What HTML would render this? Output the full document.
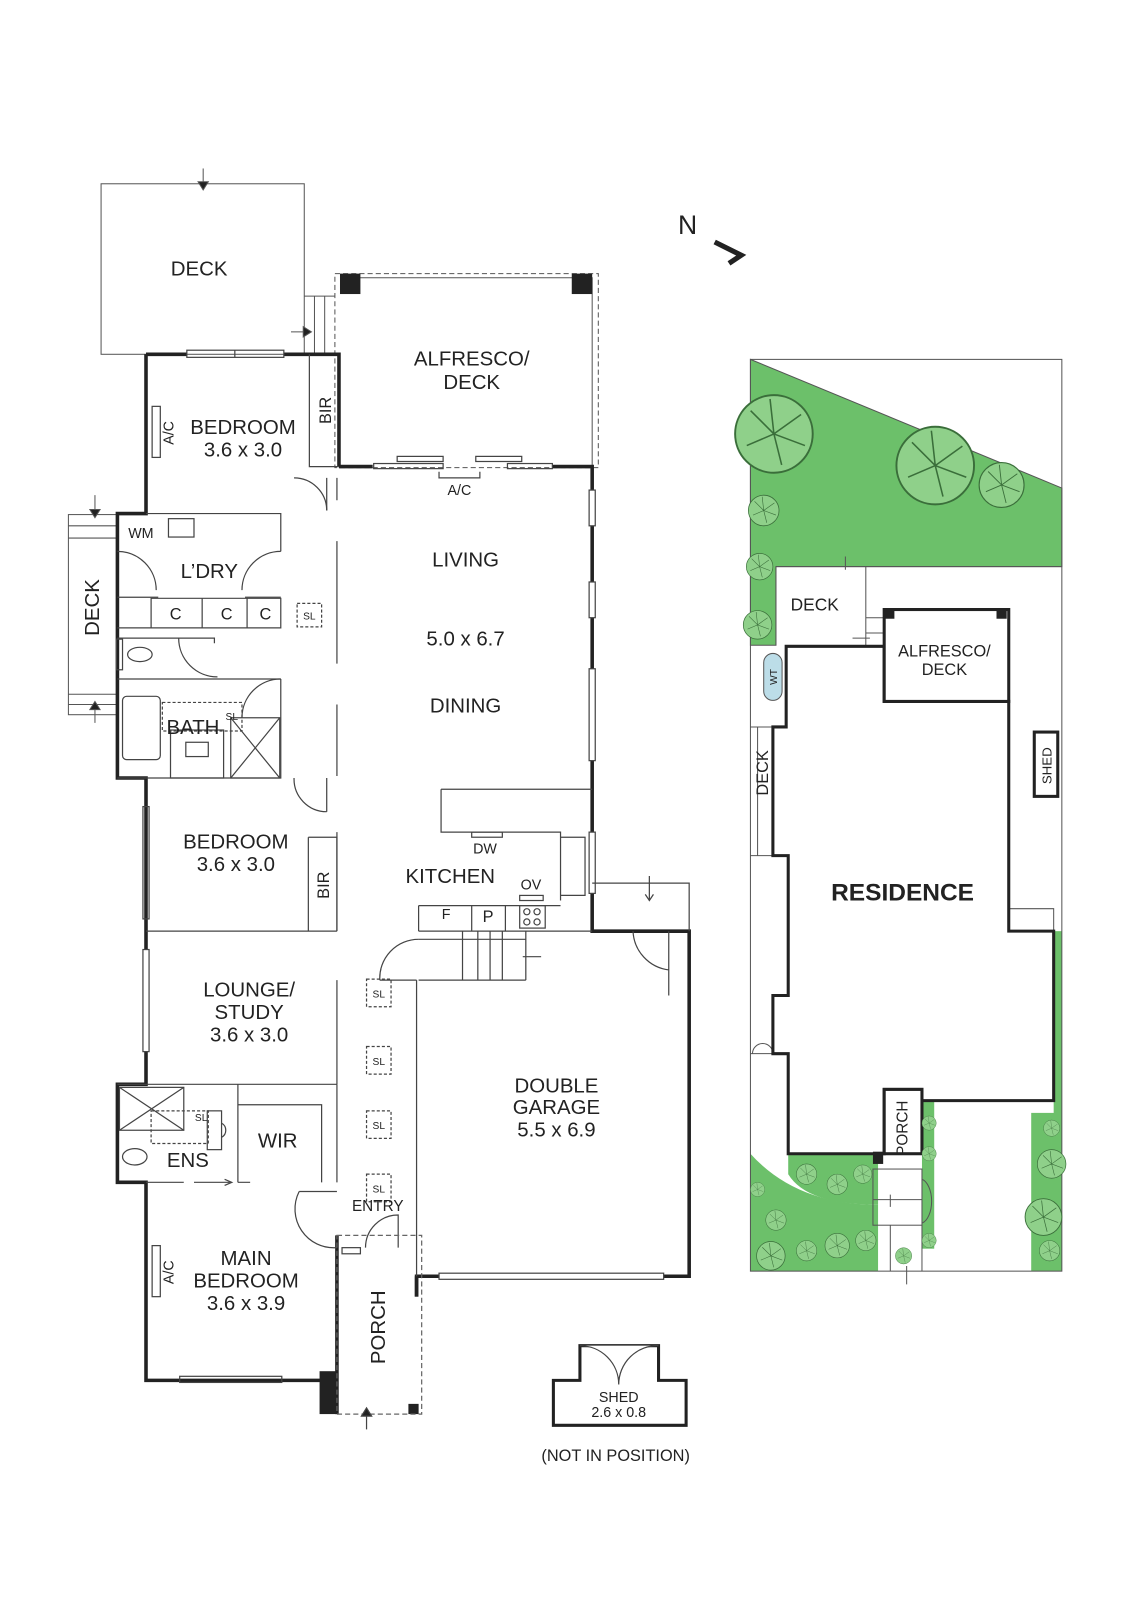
<!DOCTYPE html>
<html><head><meta charset="utf-8"><style>
html,body{margin:0;padding:0;background:#fff}
svg{display:block}
text{font-family:"Liberation Sans",sans-serif;fill:#222}
</style></head><body>
<svg width="1131" height="1600" viewBox="0 0 1131 1600" xmlns="http://www.w3.org/2000/svg">
<defs>
<g id="tree"><circle r="1" fill="#8fd08a" stroke="#3a6e3a" stroke-width="0.05"/><path d="M0,0 L0.7,-0.5 M0,0 L-0.6,-0.6 M0,0 L0.2,0.8 M0,0 L-0.7,0.3 M0,0 L0.8,0.3 M0,0 L-0.1,-0.9" stroke="#3a6e3a" stroke-width="0.04"/></g>
</defs>
<g transform="scale(1.021)">
<g fill="none" stroke="#555" stroke-width="1">
<rect x="99" y="180" width="199" height="167"/>
<path d="M298,290 H328 M308,290 V347 M318,290 V347"/>
<path d="M199,165 V185" /><path d="M194,178 L199,186 L204,178 Z" fill="#222"/>
<path d="M285,325 H303"/><path d="M297,320 L305,325 L297,330 Z" fill="#222"/>
<rect x="328" y="268" width="258" height="190" stroke-dasharray="5,3"/>
<path d="M333,272 H580 V457"/>
<rect x="67" y="504" width="48" height="196"/>
<path d="M67,515 H115 M67,527 H115 M67,680 H115 M67,690 H115"/>
<path d="M93,485 V506 M93,690 V708"/>
<path d="M88,499 L93,507 L98,499Z M88,695 L93,687 L98,695Z" fill="#222"/>
</g>
<rect x="333" y="268" width="20" height="20" fill="#222"/>
<rect x="560" y="268" width="20" height="20" fill="#222"/>
<rect x="313" y="1343" width="18" height="42" fill="#222"/>
<rect x="400" y="1375" width="10" height="10" fill="#222"/>
<g fill="none" stroke="#222" stroke-width="3.5">
<path d="M143,347 H183 M278,347 H332 V457"/>
<path d="M143,347 V503 H115 V762 H143 V930 M143,1030 V1062 H115 V1158 H143 V1352 H330"/>
<path d="M332,457 H365 M541,457 H580 V480 M580,515 V570 M580,605 V655 M580,745 V815 M580,875 V912 H675 V1250 H650 M430,1250 H408 V1270"/>
<path d="M330,1210 V1385 M408,1250 V1270"/>
</g>
<g fill="none" stroke="#444" stroke-width="1.2">
<rect x="183" y="343" width="95" height="7"/><path d="M230,343 V350"/>
<rect x="366" y="454" width="68" height="5"/><rect x="389" y="447" width="45" height="5"/>
<rect x="466" y="447" width="45" height="5"/><rect x="497" y="454" width="44" height="5"/>
<path d="M430,462 V468 H470 V462"/>
<rect x="577" y="480" width="6" height="35"/><rect x="577" y="570" width="6" height="35"/><rect x="577" y="655" width="6" height="90"/><rect x="577" y="815" width="6" height="60"/>
<rect x="140" y="790" width="6" height="110"/><rect x="140" y="930" width="6" height="100"/>
<rect x="176" y="1348" width="100" height="6"/>
<rect x="430" y="1247" width="220" height="6"/>
<rect x="149" y="398" width="8" height="50"/><rect x="149" y="1220" width="8" height="50"/>
<path d="M303,347 V457 H332"/>
<path d="M143,503 H275 V540 M115,585 H155 M240,585 H275"/>
<rect x="165" y="508" width="25" height="18"/>
<path d="M115,615 H275 V586 H148 V615 M198,586 V615 M242,586 V615"/>
<path d="M115,625 H210 V630 M115,665 H275 M115,762 H275 V665"/>
<rect x="120" y="682" width="37" height="62" rx="4"/>
<rect x="159" y="688" width="78" height="28" stroke-dasharray="3,2"/>
<rect x="167" y="715" width="52" height="47"/><rect x="182" y="727" width="22" height="14"/>
<rect x="226" y="703" width="48" height="59"/><path d="M226,703 L274,762 M274,703 L226,762"/>
<ellipse cx="137" cy="641" rx="12" ry="7"/><rect x="114" y="626" width="6" height="30"/>
<path d="M330,468 V490 M330,530 V650 M330,690 V760 M330,815 V912 M330,960 V1062"/>
<path d="M320,468 V500 M320,762 V795"/>
<path d="M320,500 A32,32 0 0 0 288,468 M275,540 A38,38 0 0 0 237,578 M115,540 A38,38 0 0 1 153,578 M175,625 A38,38 0 0 0 213,663 M320,795 A32,32 0 0 1 288,762 M275,665 A38,38 0 0 0 237,703"/>
<path d="M302,820 H330 V912 M302,820 V912 M143,912 H330"/>
<path d="M432,773 H580 M432,773 V815 H549 V882 M549,820 H573 V877 H549"/>
<rect x="462" y="815" width="30" height="5"/>
<rect x="509" y="877" width="23" height="5"/>
<path d="M410,887 H549 M410,912 H580 M462,887 V912 M495,887 V912 M410,887 V912"/>
<rect x="509" y="887" width="25" height="22"/>
<circle cx="516" cy="893" r="3"/><circle cx="526" cy="893" r="3"/><circle cx="516" cy="903" r="3"/><circle cx="526" cy="903" r="3"/>
<path d="M410,920 H515 M453,912 V960 M468,912 V960 M480,912 V960 M492,912 V960 M515,912 V960 M410,960 H515 M408,960 V1250"/>
<path d="M530,937 H512"/>
<path d="M372,960 A38,38 0 0 1 410,920"/>
<path d="M372,960 H408"/>
<path d="M655,912 V975 M620,912 A40,40 0 0 0 655,950"/>
<path d="M115,1062 H330 M233,1062 V1158 M233,1082 H315 V1158 M330,1062 V1158 M293,1167 H330"/>
<rect x="117" y="1065" width="63" height="42"/><path d="M117,1065 L180,1107 M180,1065 L117,1107"/>
<rect x="148" y="1088" width="56" height="32" stroke-dasharray="3,2"/>
<rect x="203" y="1088" width="14" height="38"/><path d="M217,1100 A8,8 0 0 1 217,1114"/>
<ellipse cx="132" cy="1133" rx="12" ry="8"/>
<path d="M143,1158 H180 M190,1158 H225 M220,1155 L227,1158 L220,1161 M233,1158 H245"/>
<path d="M330,1222 A38,38 0 0 1 293,1167"/>
<path d="M358,1222 A32,32 0 0 1 390,1190 V1222"/>
<rect x="335" y="1222" width="18" height="6"/>
<rect x="330" y="1210" width="83" height="175" stroke-dasharray="5,3" stroke="#666"/>
<path d="M359,1400 V1380"/><path d="M354,1387 L359,1379 L364,1387Z" fill="#222"/>
<g stroke-dasharray="3,2"><rect x="291" y="591" width="24" height="23"/><rect x="359" y="959" width="24" height="27"/><rect x="359" y="1025" width="24" height="27"/><rect x="359" y="1088" width="24" height="27"/><rect x="359" y="1150" width="24" height="27"/></g>
<path d="M542,1396 V1352 H568 V1318 H645 V1352 H672 V1396 Z" stroke="#222" stroke-width="3"/>
<path d="M568,1318 A38,38 0 0 1 606,1356 A38,38 0 0 1 645,1318" fill="#fff"/>
<path d="M636,858 V882 M632,876 L636,882 L640,876"/>
<path d="M580,865 H675 V912"/>
</g>
<text x="664" y="229" font-size="26">N</text>
<path d="M700,237 L726,250 L714,258" fill="none" stroke="#222" stroke-width="5"/>

<g font-size="20" text-anchor="middle">
<text x="195" y="270">DECK</text>
<text x="462" y="358">ALFRESCO/</text><text x="462" y="381">DECK</text>
<text x="238" y="425">BEDROOM</text><text x="238" y="447">3.6 x 3.0</text>
<text x="205" y="566">L’DRY</text>
<text x="456" y="555">LIVING</text>
<text x="456" y="632">5.0 x 6.7</text>
<text x="456" y="698">DINING</text>
<text x="189" y="719">BATH</text>
<text x="231" y="831">BEDROOM</text><text x="231" y="853">3.6 x 3.0</text>
<text x="441" y="865">KITCHEN</text>
<text x="244" y="976">LOUNGE/</text><text x="244" y="998">STUDY</text><text x="244" y="1020">3.6 x 3.0</text>
<text x="545" y="1070">DOUBLE</text><text x="545" y="1091">GARAGE</text><text x="545" y="1113">5.5 x 6.9</text>
<text x="272" y="1124">WIR</text>
<text x="184" y="1143">ENS</text>
<text x="241" y="1239">MAIN</text><text x="241" y="1261">BEDROOM</text><text x="241" y="1283">3.6 x 3.9</text>
<text transform="translate(97,595) rotate(-90)">DECK</text>
<text transform="translate(377,1300) rotate(-90)">PORCH</text>
</g>
<g font-size="16" text-anchor="middle">
<text transform="translate(324,402) rotate(-90)">BIR</text>
<text transform="translate(322,867) rotate(-90)">BIR</text>
<text transform="translate(170,424) rotate(-90)" font-size="14">A/C</text>
<text transform="translate(170,1246) rotate(-90)" font-size="14">A/C</text>
<text x="450" y="485" font-size="14">A/C</text>
<text x="138" y="527" font-size="14">WM</text>
<text x="172" y="607">C</text><text x="222" y="607">C</text><text x="260" y="607">C</text>
<text x="475" y="836" font-size="14">DW</text>
<text x="520" y="871" font-size="14">OV</text>
<text x="437" y="900" font-size="14">F</text><text x="478" y="903">P</text>
<text x="370" y="1186" font-size="15">ENTRY</text>
<text x="606" y="1373" font-size="14">SHED</text><text x="606" y="1388" font-size="14">2.6 x 0.8</text>
<text x="603" y="1431" font-size="16">(NOT IN POSITION)</text>
</g>
<g font-size="10" text-anchor="middle">
<text x="303" y="607">SL</text><text x="227" y="705">SL</text><text x="371" y="977">SL</text><text x="371" y="1043">SL</text><text x="371" y="1106">SL</text><text x="371" y="1168">SL</text><text x="197" y="1098">SL</text>
</g>

<polygon points="735,352 1040,478 1040,555 760,555 760,632 735,632" fill="#6cc06a" stroke="#555" stroke-width="1"/>
<rect x="1032" y="912" width="8" height="333" fill="#6cc06a"/>
<path d="M735,1130 Q780,1180 860,1180 V1245 H735 Z" fill="#6cc06a"/>
<path d="M772,1130 H860 V1180 Q790,1180 772,1150 Z" fill="#6cc06a"/>
<rect x="903" y="1078" width="12" height="145" fill="#6cc06a"/>
<rect x="1010" y="1090" width="30" height="155" fill="#6cc06a"/>
<g fill="none" stroke="#555" stroke-width="1">
<rect x="735" y="352" width="305" height="893"/>
<path d="M760,555 V632 M848,555 V632 M760,555 H1040"/>
<rect x="866" y="597" width="122" height="90" stroke-dasharray="4,3"/>
<path d="M848,605 H866 M848,620 H866 M828,545 V558 M835,625 H852"/>
<path d="M735,712 H770 M735,838 H770 M742,712 V838"/>
<path d="M735,1032 H757 M737,1032 A10,10 0 0 1 757,1032"/>
<path d="M988,890 H1032 V912"/>
<rect x="855" y="1145" width="48" height="55"/><path d="M855,1175 H903 M903,1155 A12,22 0 0 1 903,1198"/>
<path d="M872,1200 V1245 M903,1200 V1245"/>
<path d="M888,1258 V1240 M872,1182 V1170"/>
</g>
<polygon points="770,633 866,633 866,687 988,687 988,912 1032,912 1032,1078 903,1078 903,1067 866,1067 866,1130 772,1130 772,1032 757,1032 757,975 772,975 772,838 757,838 757,712 770,712" fill="#fff" stroke="#222" stroke-width="3"/>
<rect x="866" y="597" width="122" height="90" fill="#fff" stroke="#222" stroke-width="3"/>
<rect x="866" y="598" width="10" height="8" fill="#222"/><rect x="976" y="598" width="10" height="8" fill="#222"/>
<rect x="866" y="1067" width="37" height="63" fill="#fff" stroke="#222" stroke-width="3"/>
<rect x="855" y="1128" width="10" height="12" fill="#222"/>
<rect x="1013" y="717" width="23" height="63" fill="#fff" stroke="#222" stroke-width="3"/>
<rect x="748" y="640" width="18" height="46" rx="9" fill="#bcdde8" stroke="#555"/>
<g>
<use href="#tree" transform="translate(758,425) scale(38)"/>
<use href="#tree" transform="translate(916,456) scale(38)"/>
<use href="#tree" transform="translate(981,475) scale(22)"/>
<use href="#tree" transform="translate(748,500) scale(15)"/>
<use href="#tree" transform="translate(744,555) scale(13)"/>
<use href="#tree" transform="translate(742,612) scale(14)"/>
<use href="#tree" transform="translate(1030,1140) scale(14)"/>
<use href="#tree" transform="translate(1022,1192) scale(18)"/>
<use href="#tree" transform="translate(1030,1105) scale(8)"/>
<use href="#tree" transform="translate(1028,1225) scale(10)"/>
<use href="#tree" transform="translate(755,1230) scale(14)"/>
<use href="#tree" transform="translate(790,1225) scale(10)"/>
<use href="#tree" transform="translate(820,1220) scale(12)"/>
<use href="#tree" transform="translate(848,1215) scale(10)"/>
<use href="#tree" transform="translate(760,1195) scale(10)"/>
<use href="#tree" transform="translate(790,1150) scale(10)"/>
<use href="#tree" transform="translate(820,1160) scale(10)"/>
<use href="#tree" transform="translate(845,1150) scale(9)"/>
<use href="#tree" transform="translate(742,1165) scale(7)"/>
<use href="#tree" transform="translate(885,1230) scale(8)"/>
<use href="#tree" transform="translate(910,1215) scale(7)"/>
<use href="#tree" transform="translate(910,1100) scale(7)"/>
<use href="#tree" transform="translate(910,1130) scale(7)"/>
</g>
<g text-anchor="middle">
<text x="798" y="598" font-size="17">DECK</text>
<text x="925" y="643" font-size="16">ALFRESCO/</text><text x="925" y="661" font-size="16">DECK</text>
<text x="884" y="882" font-size="24" font-weight="bold">RESIDENCE</text>
<text transform="translate(752,757) rotate(-90)" font-size="16">DECK</text>
<text transform="translate(889,1105) rotate(-90)" font-size="15">PORCH</text>
<text transform="translate(1030,750) rotate(-90)" font-size="13">SHED</text>
<text transform="translate(761,663) rotate(-90)" font-size="10">WT</text>
</g>
</g>
</svg>
</body></html>
